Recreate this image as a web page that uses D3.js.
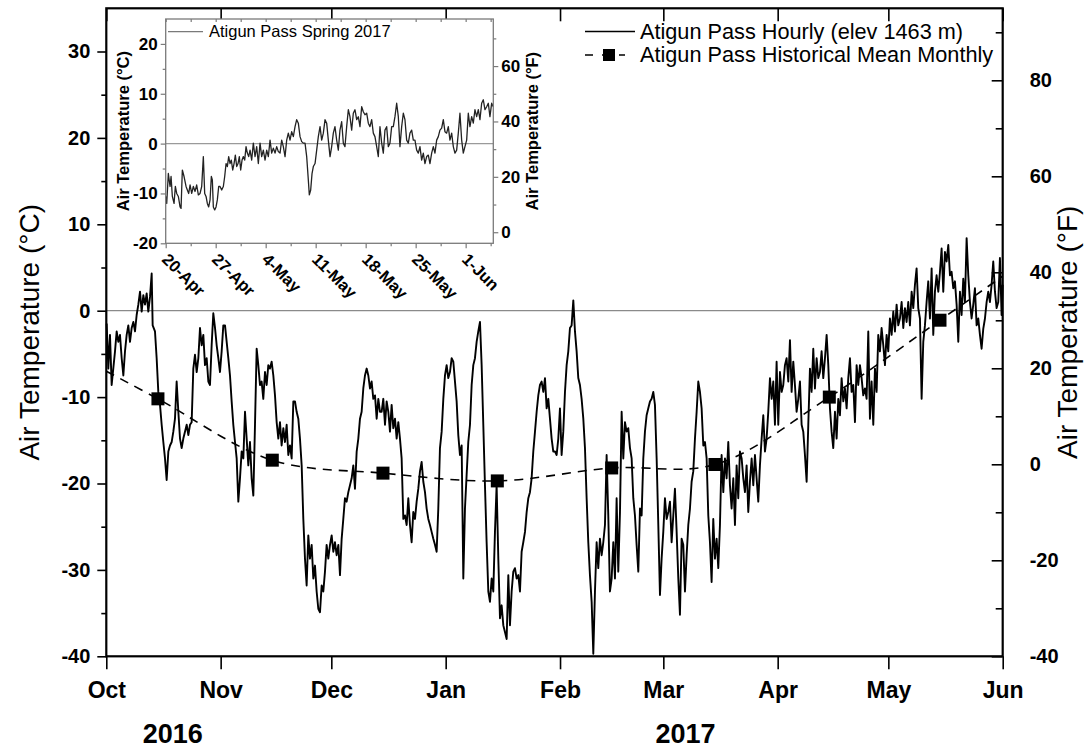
<!DOCTYPE html>
<html><head><meta charset="utf-8">
<script src="https://cdn.jsdelivr.net/npm/d3@7"></script>
<style>
html,body{margin:0;padding:0;background:#fff;}
svg{display:block;}
</style></head><body>
<svg id="chart" width="1087" height="750"></svg>
<script>
// ---------------- DATA ----------------
const monthLabels = ["Oct","Nov","Dec","Jan","Feb","Mar","Apr","May","Jun"];
const monthStarts = ["2016-10-01","2016-11-01","2016-12-01","2017-01-01","2017-02-01","2017-03-01","2017-04-01","2017-05-01","2017-06-01"];
const yearLabels = ["2016","2017"];
const yearLabelDates = ["2016-10-19","2017-03-07"];
const celsiusTicks = [-40,-30,-20,-10,0,10,20,30];
const fahrenheitTicks = [-40,-20,0,20,40,60,80];

const meanMonthDates = ["2016-10-15","2016-11-15","2016-12-15","2017-01-15","2017-02-15","2017-03-15","2017-04-15","2017-05-15"];
const meanMonthTemps = [-10.2,-17.3,-18.8,-19.7,-18.2,-17.8,-10.0,-1.1];
const meanCurveEnds = {start:["2016-10-01",-7.0], end:["2017-06-01",4.0]};

// hourly record: [days since 2016-10-01 00:00, air temperature °C]
const hourlyTrace = [
[0.10,-1.5],[0.55,-6.7],[1.00,-2.8],[1.45,-8.6],[2.36,-4.7],[2.81,-2.4],[3.26,-3.6],[3.71,-2.8],[4.17,-5.5],[4.62,-7.5],[5.07,-4.7],[5.52,-2.8],[5.97,-1.7],[6.42,-3.6],[6.88,-2.0],[7.33,-1.3],[7.78,-2.4],[8.23,-0.5],[8.68,0.7],[9.14,2.2],[9.59,-0.1],[10.04,1.8],[10.49,0.7],[10.94,2.0],[11.39,-0.1],[11.85,1.6],[12.30,4.3],[12.57,-1.7],[13.20,-2.4],[13.65,-5.5],[14.10,-9.4],[14.56,-10.9],[15.01,-13.2],[15.46,-15.2],[15.91,-17.1],[16.36,-19.6],[16.82,-16.3],[17.27,-15.6],[17.72,-15.2],[18.17,-14.0],[18.62,-12.5],[19.07,-8.2],[19.53,-11.7],[19.98,-14.8],[20.43,-15.9],[20.88,-14.8],[21.33,-14.0],[21.79,-13.2],[22.24,-14.4],[22.69,-13.2],[23.14,-12.9],[23.59,-6.7],[24.04,-5.1],[24.50,-7.1],[24.95,-5.5],[25.40,-2.0],[25.85,-4.0],[26.30,-2.8],[26.75,-6.3],[27.21,-5.5],[27.66,-8.2],[28.11,-8.6],[28.56,-4.0],[29.01,-0.3],[29.47,-2.0],[29.92,-4.0],[30.37,-5.5],[30.82,-7.1],[31.27,-4.7],[31.72,-1.7],[32.18,-1.7],[32.63,-3.6],[33.08,-5.5],[33.53,-7.5],[33.98,-10.5],[34.43,-13.2],[34.89,-15.2],[35.34,-17.1],[35.79,-22.1],[36.24,-19.4],[36.69,-16.3],[37.15,-17.1],[37.60,-11.7],[38.05,-14.8],[38.50,-17.9],[38.95,-15.2],[39.40,-19.4],[39.86,-21.4],
[40.31,-13.2],[40.76,-4.4],[41.21,-6.3],[41.66,-8.6],[42.11,-8.2],[42.56,-10.2],[43.02,-7.1],[43.47,-8.6],[43.92,-6.3],[44.37,-6.7],[44.82,-5.9],[45.28,-7.5],[45.73,-9.8],[46.18,-12.9],[46.63,-14.8],[47.08,-12.9],[47.53,-15.6],[47.99,-13.6],[48.44,-15.2],[48.89,-13.2],[49.34,-16.7],[49.79,-15.6],[50.25,-17.1],[50.70,-10.5],[51.15,-10.5],[51.60,-11.7],[52.05,-12.5],[52.50,-14.8],[52.96,-17.9],[53.41,-24.1],[53.86,-28.7],[54.31,-31.8],[54.76,-26.0],[55.21,-28.7],[55.67,-27.1],[56.12,-31.0],[56.57,-29.5],[57.02,-32.5],[57.47,-34.5],[57.93,-34.9],[58.38,-31.8],[58.83,-32.5],[59.28,-30.2],[59.73,-27.1],[60.18,-28.7],[60.64,-27.1],[61.09,-26.0],[61.54,-27.9],[61.99,-26.8],[62.44,-28.3],[62.90,-27.1],[63.35,-30.6],[63.80,-26.4],[64.25,-24.1],[64.70,-21.7],[65.15,-22.1],[65.61,-21.0],[66.06,-20.2],[66.51,-19.4],[66.96,-17.9],[67.41,-20.6],[67.87,-16.3],[68.32,-14.8],[68.77,-12.5],[69.22,-11.7],[69.67,-9.0],[70.12,-7.5],[70.58,-6.7],[71.03,-7.5],[71.48,-9.0],[71.93,-8.2],[72.38,-10.2],[72.84,-9.8],[73.29,-12.5],[73.74,-10.2],[74.19,-11.7],[74.64,-11.7],[75.09,-10.2],[75.55,-13.2],[76.00,-10.5],[76.45,-11.7],[76.90,-14.0],[77.35,-10.9],[77.80,-13.6],[78.26,-12.5],[78.71,-14.8],[79.16,-12.9],[79.61,-14.8],[80.06,-17.1],[80.52,-24.1],
[80.97,-23.7],[81.42,-24.8],[81.87,-21.7],[82.32,-24.8],[82.77,-26.8],[83.22,-23.3],[83.68,-24.1],[84.13,-22.1],[84.58,-20.6],[85.03,-18.6],[85.48,-17.5],[85.94,-19.8],[86.39,-21.0],[86.84,-22.9],[87.29,-24.1],[87.74,-24.8],[88.19,-25.6],[88.65,-26.4],[89.10,-27.1],[89.55,-27.9],[90.00,-22.9],[90.45,-15.9],[90.91,-14.0],[91.36,-10.2],[91.81,-7.5],[92.26,-6.3],[92.71,-7.8],[93.16,-7.1],[93.62,-5.5],[94.07,-5.9],[94.52,-8.2],[94.97,-10.5],[95.42,-14.4],[95.87,-16.7],[96.33,-15.6],[96.78,-31.0],[97.23,-22.9],[97.68,-19.0],[98.13,-15.2],[98.59,-13.2],[99.04,-8.6],[99.49,-6.3],[99.94,-5.5],[100.39,-3.6],[100.84,-2.4],[101.30,-1.3],[101.75,-6.3],[102.20,-13.2],[102.65,-20.2],[103.10,-26.8],[103.56,-32.5],[104.01,-33.7],[104.46,-31.0],[104.91,-32.5],[105.36,-25.6],[105.81,-20.2],[106.27,-28.7],[106.72,-35.6],[107.17,-34.1],[107.62,-36.4],[108.07,-37.2],[108.53,-38.0],[108.98,-30.6],[109.43,-36.4],[109.88,-32.5],[110.33,-30.2],[110.78,-29.8],[111.24,-31.0],[111.69,-30.6],[112.14,-32.5],[112.59,-27.9],[113.04,-26.8],[113.50,-25.6],[113.95,-23.3],[114.40,-21.7],[114.85,-21.0],[115.30,-19.4],[115.75,-16.3],[116.21,-14.0],[116.66,-11.7],[117.11,-9.8],[117.56,-8.6],[118.01,-8.2],[118.47,-9.4],[118.92,-7.8],[119.37,-11.3],[119.82,-10.2],[120.27,-12.5],[120.72,-14.8],[121.17,-16.3],
[121.63,-16.3],[122.08,-16.7],[122.53,-14.8],[122.98,-11.3],[123.43,-16.7],[123.88,-14.0],[124.34,-9.4],[124.79,-6.3],[125.24,-4.7],[125.69,-2.0],[126.14,-1.7],[126.60,1.2],[127.05,-2.4],[127.50,-4.7],[127.95,-7.8],[128.40,-8.6],[128.85,-10.2],[129.31,-12.5],[129.76,-15.9],[130.21,-21.7],[130.66,-26.8],[131.11,-30.6],[131.57,-33.7],[132.02,-39.7],[132.47,-32.5],[132.92,-26.8],[133.37,-29.8],[133.82,-26.4],[134.28,-28.3],[134.73,-26.8],[135.18,-24.8],[135.63,-16.7],[136.08,-23.7],[136.53,-32.5],[136.99,-31.0],[137.44,-26.8],[137.89,-31.0],[138.34,-21.7],[138.79,-30.2],[139.25,-23.3],[139.70,-11.7],[140.15,-17.1],[140.60,-12.9],[141.05,-14.0],[141.50,-13.6],[141.96,-15.9],[142.41,-17.1],[142.86,-21.7],[143.31,-23.7],[143.76,-27.1],[144.22,-30.2],[144.67,-22.9],[145.12,-23.7],[145.57,-17.1],[146.02,-14.0],[146.47,-12.1],[146.93,-11.3],[147.38,-10.5],[147.83,-10.2],[148.28,-9.4],[148.73,-10.9],[149.19,-17.1],[149.64,-24.8],[150.09,-32.9],[150.54,-28.7],[150.99,-25.6],[151.44,-21.7],[151.90,-24.1],[152.35,-23.3],[152.80,-22.1],[153.25,-26.8],[153.70,-23.7],[154.15,-20.6],[154.61,-25.6],[155.06,-31.0],[155.51,-35.2],[155.96,-26.4],[156.41,-27.1],[156.87,-32.5],[157.32,-28.3],[157.77,-24.8],[158.22,-22.9],[158.67,-19.8],[159.12,-18.6],[159.58,-14.8],[160.03,-11.7],[160.48,-8.2],[160.93,-9.4],[161.38,-11.3],[161.84,-15.6],
[162.29,-15.2],[162.74,-17.1],[163.19,-23.7],[163.64,-26.8],[164.09,-31.4],[164.54,-24.1],[165.00,-28.7],[165.45,-26.4],[165.90,-29.8],[166.35,-24.8],[166.80,-16.7],[167.26,-21.0],[167.71,-17.1],[168.16,-19.4],[168.61,-15.2],[169.06,-20.2],[169.51,-22.9],[169.97,-19.4],[170.42,-24.8],[170.87,-17.9],[171.32,-21.7],[171.77,-16.3],[172.23,-17.1],[172.68,-19.4],[173.13,-21.0],[173.58,-17.9],[174.03,-23.3],[174.48,-19.8],[174.94,-17.1],[175.39,-20.2],[175.84,-16.7],[176.29,-19.4],[176.74,-22.1],[177.19,-17.9],[177.65,-14.8],[178.10,-12.1],[178.55,-16.3],[179.00,-14.8],[179.45,-11.7],[179.91,-7.8],[180.36,-10.2],[180.81,-8.2],[181.26,-13.2],[181.71,-5.9],[182.16,-13.2],[182.62,-7.1],[183.07,-9.4],[183.52,-8.6],[183.97,-6.3],[184.42,-5.5],[184.88,-8.2],[185.33,-3.4],[185.78,-9.4],[186.23,-5.9],[186.68,-8.6],[187.13,-11.7],[187.59,-10.2],[188.04,-8.2],[188.49,-13.2],[188.94,-14.0],[189.39,-16.7],[189.85,-19.8],[190.30,-13.2],[190.75,-6.7],[191.20,-9.4],[191.65,-4.4],[192.10,-9.0],[192.56,-5.5],[193.01,-7.8],[193.46,-7.1],[193.91,-4.7],[194.36,-7.8],[194.82,-5.5],[195.27,-2.8],[195.72,-6.3],[196.17,-11.3],[196.62,-14.0],[197.07,-15.9],[197.53,-11.7],[197.98,-14.8],[198.43,-10.2],[198.88,-12.1],[199.33,-7.8],[199.79,-10.5],[200.24,-9.0],[200.69,-11.3],[201.14,-7.8],[201.59,-5.5],[202.04,-9.4],[202.50,-8.6],
[202.95,-12.9],[203.40,-6.3],[203.85,-8.6],[204.30,-6.3],[204.75,-7.8],[205.20,-9.8],[205.66,-9.0],[206.11,-10.2],[206.56,-2.4],[207.01,-12.5],[207.46,-8.2],[207.92,-13.2],[208.37,-6.7],[208.82,-9.4],[209.27,-2.8],[209.72,-4.7],[210.17,-2.0],[210.63,-4.0],[211.08,-6.3],[211.53,-2.8],[211.98,-4.7],[212.43,-0.9],[212.89,-2.8],[213.34,-0.1],[213.79,-2.4],[214.24,0.7],[214.69,-1.7],[215.14,-0.9],[215.60,1.0],[216.05,-2.0],[216.50,0.3],[216.95,-1.3],[217.40,1.0],[217.85,-1.7],[218.31,2.2],[218.76,0.3],[219.21,3.0],[219.66,4.9],[220.11,0.3],[220.57,-0.9],[221.02,-10.2],[221.47,-3.6],[221.92,-1.7],[222.37,1.0],[222.82,3.4],[223.28,-0.9],[223.73,4.9],[224.18,-2.8],[224.63,2.2],[225.08,4.1],[225.54,2.2],[225.99,4.5],[226.44,7.2],[226.89,2.2],[227.34,6.8],[227.79,5.7],[228.25,7.6],[228.70,4.1],[229.15,4.5],[229.60,2.6],[230.05,3.4],[230.51,0.7],[230.96,-3.6],[231.41,2.2],[231.86,-0.5],[232.31,3.7],[232.76,1.0],[233.22,8.4],[233.67,4.1],[234.12,1.0],[234.57,-0.9],[235.02,0.7],[235.47,2.6],[235.93,-1.7],[236.38,-0.9],[236.83,-2.8],[237.28,-4.4],[237.73,-2.1],[238.19,-0.9],[238.64,1.0],[239.09,2.2],[239.54,1.0],[239.99,3.0],[240.44,5.7],[240.90,2.2],[241.35,0.3],[241.80,1.0],[242.25,6.1],[242.70,-0.5],[243.00,3.0]
];

// inset
const insetTickLabels = ["20-Apr","27-Apr","4-May","11-May","18-May","25-May","1-Jun"];
const insetTickDates = ["2017-04-20","2017-04-27","2017-05-04","2017-05-11","2017-05-18","2017-05-25","2017-06-01"];
const insetCTicks = [-20,-10,0,10,20];
const insetFTicks = [0,20,40,60];
const insetLegendLabel = "Atigun Pass Spring 2017";
// spring record: [days since 2017-04-20 00:00, air temperature °C]
const springTrace = [
[0.00,-10.6],[0.14,-12.0],[0.37,-6.0],[0.61,-8.6],[0.75,-6.6],[0.93,-10.6],[1.17,-12.0],[1.35,-8.6],[1.54,-10.0],[1.77,-10.6],
[2.01,-12.7],[2.15,-13.0],[2.33,-5.3],[2.57,-6.6],[2.85,-8.6],[3.03,-9.3],[3.22,-10.0],[3.41,-8.3],[3.64,-10.0],[3.87,-8.6],
[4.11,-9.6],[4.34,-8.3],[4.57,-10.3],[4.81,-10.0],[5.04,-8.6],[5.27,-2.6],[5.46,-10.0],[5.65,-10.6],[5.83,-12.0],[6.02,-12.7],
[6.21,-11.3],[6.39,-6.6],[6.53,-7.3],[6.67,-12.7],[6.86,-13.3],[7.05,-12.7],[7.23,-11.3],[7.42,-8.6],[7.61,-8.6],[7.84,-9.3],
[8.07,-8.6],[8.26,-6.6],[8.45,-4.0],[8.63,-4.6],[8.82,-2.6],[9.01,-4.0],[9.19,-3.3],[9.38,-5.3],[9.57,-4.0],[9.75,-2.3],
[9.94,-4.6],[10.13,-4.0],[10.31,-2.6],[10.50,-5.3],[10.69,-3.3],[10.87,-2.6],[11.06,-3.3],[11.25,-0.6],[11.43,-1.9],[11.62,-2.6],
[11.81,-1.3],[12.04,-3.3],[12.27,0.1],[12.51,-2.6],[12.74,-0.6],[12.97,-4.0],[13.21,0.1],[13.44,-2.6],[13.67,-1.3],[13.91,-3.3],
[14.14,-1.3],[14.37,-2.6],[14.61,0.7],[14.84,-1.9],[15.07,-0.9],[15.31,-1.9],[15.54,-0.6],[15.77,-1.6],[16.01,-1.9],[16.24,0.7],
[16.47,-0.6],[16.71,-2.6],[16.94,0.7],[17.17,2.1],[17.41,0.7],[17.64,2.4],[17.87,1.4],[18.11,3.4],[18.34,4.8],[18.57,4.1],
[18.81,1.4],[19.04,0.4],[19.27,0.1],[19.51,0.1],[19.74,-2.6],[19.97,-7.3],[20.11,-10.3],[20.30,-9.3],[20.49,-6.0],[20.67,-4.6],
[20.91,-4.0],[21.14,-1.3],[21.37,1.4],[21.61,3.4],[21.84,0.7],[22.07,2.1],[22.31,4.8],[22.54,4.1],[22.77,0.7],[23.01,-2.6],
[23.24,-0.6],[23.47,2.1],[23.70,3.4],[23.94,0.7],[24.17,-1.3],[24.40,2.7],[24.64,4.4],[24.87,0.1],[25.10,-0.6],[25.34,3.4],
[25.57,6.8],[25.80,5.4],[26.04,2.7],[26.27,6.1],[26.50,6.8],[26.74,4.8],[26.97,5.4],[27.20,3.4],[27.44,7.4],[27.67,6.4],
[27.90,5.8],[28.14,6.1],[28.37,4.1],[28.60,3.4],[28.84,4.8],[29.07,2.1],[29.30,1.4],[29.54,-0.6],[29.77,-2.6],[30.00,3.4],
[30.24,0.1],[30.47,-1.9],[30.70,2.7],[30.94,3.4],[31.17,-0.6],[31.40,0.1],[31.64,3.4],[31.87,3.4],[32.10,5.4],[32.34,8.1],
[32.57,5.4],[32.80,-0.6],[33.04,3.4],[33.27,6.1],[33.50,4.8],[33.74,0.7],[33.97,0.1],[34.20,2.1],[34.44,2.7],[34.67,0.7],
[34.90,0.7],[35.14,-1.3],[35.37,-1.9],[35.60,-0.6],[35.84,-3.3],[36.07,-1.9],[36.30,-4.0],[36.54,-2.6],[36.77,-2.3],[37.00,-4.0],
[37.24,-1.9],[37.47,-0.6],[37.70,-1.9],[37.94,0.7],[38.17,1.4],[38.40,2.7],[38.64,3.1],[38.87,4.8],[39.10,2.4],[39.34,2.1],
[39.57,3.4],[39.80,0.7],[40.04,2.1],[40.27,-0.6],[40.50,-1.9],[40.74,-1.3],[40.97,2.1],[41.20,6.1],[41.44,0.7],[41.67,-1.9],
[41.90,-0.6],[42.14,0.7],[42.37,6.1],[42.60,3.4],[42.84,5.4],[43.07,4.1],[43.30,6.8],[43.54,5.4],[43.77,6.8],[44.00,4.8],
[44.24,8.1],[44.47,8.8],[44.70,6.8],[44.94,7.4],[45.17,8.1],[45.40,5.4],[45.64,8.1],[45.87,7.4]
];

const legendLabels = ["Atigun Pass Hourly (elev 1463 m)","Atigun Pass Historical Mean Monthly"];
const axisTitleC = "Air Temperature (\u00B0C)";
const axisTitleF = "Air Temperature (\u00B0F)";

// ---------------- DRAW ----------------
const FONT = '"Liberation Sans", Arial, Helvetica, sans-serif';
const parse = d3.timeParse("%Y-%m-%d");
const svg = d3.select("#chart").style("font-family", FONT);

const L = 106.3, R = 1002.7, T = 8.3, B = 656.3;
const t0 = parse(monthStarts[0]), t1 = parse(monthStarts[monthStarts.length-1]);
const x = d3.scaleTime().domain([t0, t1]).range([L, R]);
const y = d3.scaleLinear().domain([-40, 35]).range([B, T]);
const yF = d3.scaleLinear().domain([-40, 95]).range([B, T]);
const fromDay = (base, d) => new Date(base.getTime() + d * 864e5);

// zero line
svg.append("line").attr("x1", L).attr("x2", R).attr("y1", y(0)).attr("y2", y(0))
  .attr("stroke", "#8a8a8a").attr("stroke-width", 1.3);

// mean monthly curve
const meanPts = meanMonthDates.map((d,i)=>({date:parse(d), v:meanMonthTemps[i]}));
const curvePts = [{date:parse(meanCurveEnds.start[0]), v:meanCurveEnds.start[1]}, ...meanPts,
                  {date:parse(meanCurveEnds.end[0]), v:meanCurveEnds.end[1]}];
svg.append("path").datum(curvePts)
  .attr("d", d3.line().curve(d3.curveCatmullRom.alpha(0.5)).x(d=>x(d.date)).y(d=>y(d.v)))
  .attr("fill","none").attr("stroke","#000").attr("stroke-width",1.6).attr("stroke-dasharray","9,7");

// hourly line
svg.append("path").datum(hourlyTrace)
  .attr("d", d3.line().x(d=>x(fromDay(t0,d[0]))).y(d=>y(d[1])))
  .attr("fill","none").attr("stroke","#000").attr("stroke-width",1.9).attr("stroke-linejoin","round");

// squares
svg.selectAll("rect.mm").data(meanPts).join("rect").attr("class","mm")
  .attr("x", d=>x(d.date)-6.5).attr("y", d=>y(d.v)-6.5).attr("width",13).attr("height",13).attr("fill","#000");

// axes
function styleAxis(g, size, weight){
  g.attr("font-family", FONT).attr("font-size", size).attr("font-weight", weight);
  g.select(".domain").remove();
  g.selectAll(".tick line").attr("stroke","#000").attr("stroke-width",1.6);
  g.selectAll(".tick text").attr("fill","#000");
}
const months = monthStarts.map(parse);
const fmtInt = d => String(d);

svg.append("g").attr("transform",`translate(${L},0)`)
  .call(d3.axisLeft(y).tickValues(celsiusTicks).tickSize(9).tickPadding(7).tickFormat(fmtInt))
  .call(g=>styleAxis(g,20,"bold"));
svg.append("g").attr("transform",`translate(${L},0)`)
  .call(d3.axisLeft(y).tickValues(d3.range(-35,35,10)).tickSize(5).tickFormat(""))
  .call(g=>styleAxis(g,20,"bold"));

svg.append("g").attr("transform",`translate(${R},0)`)
  .call(d3.axisRight(yF).tickValues(fahrenheitTicks).tickSize(-11).tickPadding(27).tickFormat(fmtInt))
  .call(g=>styleAxis(g,20,"bold"));
svg.append("g").attr("transform",`translate(${R},0)`)
  .call(d3.axisRight(yF).tickValues(d3.range(-30,95,20)).tickSize(-7).tickFormat(""))
  .call(g=>styleAxis(g,20,"bold"));

svg.append("g").attr("transform",`translate(0,${B})`)
  .call(d3.axisBottom(x).tickValues(months).tickSize(13).tickPadding(12).tickFormat((d,i)=>monthLabels[i]))
  .call(g=>styleAxis(g,23,"bold"));
svg.append("g").attr("transform",`translate(0,${T})`)
  .call(d3.axisBottom(x).tickValues(months).tickSize(13).tickFormat(""))
  .call(g=>styleAxis(g,23,"bold"));

// frame
svg.append("rect").attr("x",L).attr("y",T).attr("width",R-L).attr("height",B-T)
  .attr("fill","none").attr("stroke","#000").attr("stroke-width",2.2);

// year labels
svg.selectAll("text.year").data(yearLabels).join("text").attr("class","year")
  .attr("x",(d,i)=>x(parse(yearLabelDates[i]))).attr("y",743)
  .attr("text-anchor","middle").attr("font-size",27).attr("font-weight","bold").text(d=>d);

// axis titles
svg.append("text").attr("transform",`translate(39,${(T+B)/2}) rotate(-90)`)
  .attr("text-anchor","middle").attr("font-size",28).text(axisTitleC);
svg.append("text").attr("transform",`translate(1077,${(T+B)/2}) rotate(-90)`)
  .attr("text-anchor","middle").attr("font-size",28).text(axisTitleF);

// legend
const lg = svg.append("g").attr("font-size",21.7);
lg.append("line").attr("x1",585).attr("x2",635).attr("y1",31.5).attr("y2",31.5).attr("stroke","#000").attr("stroke-width",1.6);
lg.append("text").attr("x",640).attr("y",38.5).text(legendLabels[0]);
lg.append("line").attr("x1",585).attr("x2",625).attr("y1",55).attr("y2",55).attr("stroke","#000").attr("stroke-width",1.6).attr("stroke-dasharray","8,9");
lg.append("rect").attr("x",603).attr("y",49).attr("width",12).attr("height",12).attr("fill","#000");
lg.append("text").attr("x",640).attr("y",62).text(legendLabels[1]);

// ---------------- INSET ----------------
const iL = 165.7, iR = 493.3, iT = 19, iB = 243.3;
const s0 = parse(insetTickDates[0]);
const xi = d3.scaleTime().domain([s0, fromDay(s0, 45.87)]).range([iL, iR]);
const yi = d3.scaleLinear().domain([-20, 25]).range([iB, iT]);
const yiF = d3.scaleLinear().domain([yi.domain()[0]*1.8+32, yi.domain()[1]*1.8+32]).range([iB, iT]);
const GRAY = "#7a7a7a";

svg.append("rect").attr("x",iL).attr("y",iT).attr("width",iR-iL).attr("height",iB-iT).attr("fill","#fff");
svg.append("line").attr("x1",iL).attr("x2",iR).attr("y1",yi(0)).attr("y2",yi(0)).attr("stroke","#9a9a9a").attr("stroke-width",1.2);
svg.append("path").datum(springTrace)
  .attr("d", d3.line().x(d=>xi(fromDay(s0,d[0]))).y(d=>yi(d[1])))
  .attr("fill","none").attr("stroke","#222").attr("stroke-width",1.3).attr("stroke-linejoin","round");

function styleInset(g, size, weight){
  g.attr("font-family", FONT).attr("font-size", size).attr("font-weight", weight);
  g.select(".domain").remove();
  g.selectAll(".tick line").attr("stroke",GRAY).attr("stroke-width",1.2);
  g.selectAll(".tick text").attr("fill","#000");
}
svg.append("g").attr("transform",`translate(${iL},0)`)
  .call(d3.axisLeft(yi).tickValues(insetCTicks).tickSize(5).tickPadding(3).tickFormat(fmtInt))
  .call(g=>styleInset(g,17,"bold"));
svg.append("g").attr("transform",`translate(${iL},0)`)
  .call(d3.axisLeft(yi).tickValues(d3.range(-15,25,10)).tickSize(3).tickFormat(""))
  .call(g=>styleInset(g,17,"bold"));
svg.append("g").attr("transform",`translate(${iR},0)`)
  .call(d3.axisRight(yiF).tickValues(insetFTicks).tickSize(5).tickPadding(3).tickFormat(fmtInt))
  .call(g=>styleInset(g,17,"bold"));
svg.append("g").attr("transform",`translate(${iR},0)`)
  .call(d3.axisRight(yiF).tickValues(d3.range(10,80,20)).tickSize(3).tickFormat(""))
  .call(g=>styleInset(g,17,"bold"));
const iTicks = insetTickDates.map(parse);
const gxb = svg.append("g").attr("transform",`translate(0,${iB})`)
  .call(d3.axisBottom(xi).tickValues(iTicks).tickSize(5).tickFormat((d,i)=>insetTickLabels[i]))
  .call(g=>styleInset(g,16.5,"bold"));
gxb.selectAll(".tick text").attr("x",0).attr("y",0).attr("dy","0.35em")
  .attr("transform","translate(-1,13) rotate(45)").attr("text-anchor","start");
svg.append("g").attr("transform",`translate(0,${iB})`)
  .call(d3.axisBottom(xi).tickValues(iTicks.map(d=>fromDay(d,3.5))).tickSize(3).tickFormat(""))
  .call(g=>styleInset(g,16,"bold"));
svg.append("g").attr("transform",`translate(0,${iT})`)
  .call(d3.axisBottom(xi).tickValues(iTicks.concat(iTicks.map(d=>fromDay(d,3.5)))).tickSize(3).tickFormat(""))
  .call(g=>styleInset(g,16,"bold"));
svg.append("rect").attr("x",iL).attr("y",iT).attr("width",iR-iL).attr("height",iB-iT)
  .attr("fill","none").attr("stroke",GRAY).attr("stroke-width",1.3);

svg.append("text").attr("transform",`translate(129,${(iT+iB)/2}) rotate(-90)`)
  .attr("text-anchor","middle").attr("font-size",16.5).attr("font-weight","bold").text(axisTitleC);
svg.append("text").attr("transform",`translate(538,${(iT+iB)/2}) rotate(-90)`)
  .attr("text-anchor","middle").attr("font-size",16.5).attr("font-weight","bold").text(axisTitleF);

svg.append("line").attr("x1",168).attr("x2",203).attr("y1",31.7).attr("y2",31.7).attr("stroke",GRAY).attr("stroke-width",1.3);
svg.append("text").attr("x",209).attr("y",36.7).attr("font-size",16.5).text(insetLegendLabel);
</script>
</body></html>
